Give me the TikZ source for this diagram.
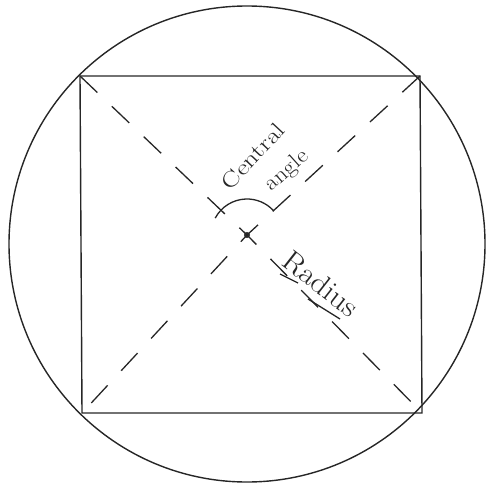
\documentclass[tikz,border=0pt]{standalone}
\begin{document}
\begin{tikzpicture}[x=1pt,y=-1pt,
  outline/.style={line width=1.4pt,black!85},
  diag/.style={line width=1.3pt,black!85,dash pattern=on 24pt off 20pt},
  hand/.style={inner sep=0pt,text=black!85},
  arcline/.style={line width=1.3pt,black!85}]
\useasboundingbox (0,0) rectangle (486,486);
\node[draw,circle,outline,minimum size=476pt,inner sep=0pt] (circ) at (247,244) {};
\coordinate (tl) at (80,76);
\coordinate (tr) at (420,76);
\coordinate (br) at (422,413);
\coordinate (bl) at (82,413);
\draw[outline] (tl) -- (tr) -- (br) -- (bl) -- cycle;
\node[circle,fill=black!80,inner sep=0pt,minimum size=6pt] (O) at (247,235) {};
\draw[diag] (tl) -- (O.center) -- (br);
\draw[diag] (tr) -- (O.center) -- (bl);
\draw[arcline] (O.center) ++(-152:36) arc[start angle=-152,end angle=-43,radius=36];
\node[hand,rotate=47,font=\fontsize{22}{22}\selectfont,xscale=1.25] (central) at (253,156) {Central};
\node[hand,rotate=42,font=\fontsize{22}{22}\selectfont,xscale=1.1] (angle) at (287,171) {angle};
\node[hand,rotate=-38,font=\fontsize{29}{29}\selectfont,xscale=1.1] (radius) at (321,284) {Radius};
\coordinate (u1a) at (280,274);
\coordinate (u1b) at (298,283);
\coordinate (u2a) at (308,299);
\coordinate (u2b) at (340,319);
\draw[arcline] (u1a) -- (u1b);
\draw[arcline] (u2a) -- (u2b);
\end{tikzpicture}
\end{document}
